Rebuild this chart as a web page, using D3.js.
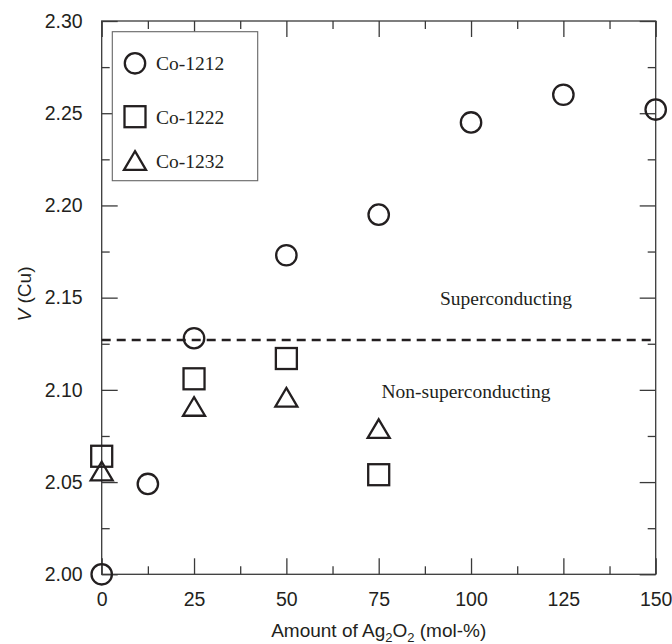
<!DOCTYPE html>
<html>
<head>
<meta charset="utf-8">
<script src="https://cdn.jsdelivr.net/npm/d3@7"></script>
<style>
  body { margin: 0; background: #fff; }
  text { fill: #231f20; }
</style>
</head>
<body>
<script>
// data
var co1212X = [0, 12.5, 25, 50, 75, 100, 125, 150];
var co1212Y = [2.000, 2.049, 2.128, 2.173, 2.195, 2.245, 2.260, 2.252];
var co1222X = [0, 25, 50, 75];
var co1222Y = [2.064, 2.106, 2.117, 2.054];
var co1232X = [0, 25, 50, 75];
var co1232Y = [2.056, 2.091, 2.096, 2.079];
var threshold = 2.127;

var xMajor = [0, 25, 50, 75, 100, 125, 150];
var xMinor = [12.5, 37.5, 62.5, 87.5, 112.5, 137.5];
var yMajor = [2.00, 2.05, 2.10, 2.15, 2.20, 2.25, 2.30];
var yMinor = [2.025, 2.075, 2.125, 2.175, 2.225, 2.275];
var legendNames = ["Co-1212", "Co-1222", "Co-1232"];

var W = 672, H = 644;
var L = 101.7, R = 655.7, T = 21, B = 574.3;
var ink = "#231f20";
var axisCol = "#3a3a3a";

var x = d3.scaleLinear().domain([0, 150]).range([L, R]);
var y = d3.scaleLinear().domain([2.00, 2.30]).range([B, T]);

var svg = d3.select("body").append("svg")
  .attr("width", W)
  .attr("height", H);

// frame
svg.append("rect")
  .attr("x", L).attr("y", T)
  .attr("width", R - L).attr("height", B - T)
  .attr("fill", "none")
  .attr("stroke", axisCol)
  .attr("stroke-width", 1.3);

function styleAxis(g) {
  g.select(".domain").remove();
  g.selectAll(".tick line").attr("stroke", axisCol).attr("stroke-width", 1.3);
  g.selectAll(".tick text")
    .attr("font-family", "'Liberation Sans', Arial, sans-serif")
    .attr("font-size", "19.5px")
    .attr("fill", ink);
}

// bottom
svg.append("g").attr("transform", "translate(0," + B + ")")
  .call(d3.axisBottom(x).tickValues(xMajor).tickSize(-16).tickPadding(0)
    .tickFormat(d3.format("d")))
  .call(styleAxis)
  .call(function(g) { g.selectAll(".tick text").attr("y", 32).attr("dy", 0); });
svg.append("g").attr("transform", "translate(0," + B + ")")
  .call(d3.axisBottom(x).tickValues(xMinor).tickSize(-8).tickFormat(""))
  .call(styleAxis);

// top
svg.append("g").attr("transform", "translate(0," + T + ")")
  .call(d3.axisTop(x).tickValues(xMajor).tickSize(-16).tickFormat(""))
  .call(styleAxis);
svg.append("g").attr("transform", "translate(0," + T + ")")
  .call(d3.axisTop(x).tickValues(xMinor).tickSize(-8).tickFormat(""))
  .call(styleAxis);

// left
svg.append("g").attr("transform", "translate(" + L + ",0)")
  .call(d3.axisLeft(y).tickValues(yMajor).tickSize(-16).tickPadding(19)
    .tickFormat(d3.format(".2f")))
  .call(styleAxis);
svg.append("g").attr("transform", "translate(" + L + ",0)")
  .call(d3.axisLeft(y).tickValues(yMinor).tickSize(-8).tickFormat(""))
  .call(styleAxis);

// right
svg.append("g").attr("transform", "translate(" + R + ",0)")
  .call(d3.axisRight(y).tickValues(yMajor).tickSize(-16).tickFormat(""))
  .call(styleAxis);
svg.append("g").attr("transform", "translate(" + R + ",0)")
  .call(d3.axisRight(y).tickValues(yMinor).tickSize(-8).tickFormat(""))
  .call(styleAxis);

// axis titles
var xt = svg.append("text")
  .attr("x", (L + R) / 2).attr("y", 637)
  .attr("text-anchor", "middle")
  .attr("font-family", "'Liberation Sans', Arial, sans-serif")
  .attr("font-size", "19px");
xt.append("tspan").text("Amount of Ag");
xt.append("tspan").attr("font-size", "13px").attr("dy", 5).text("2");
xt.append("tspan").attr("dy", -5).text("O");
xt.append("tspan").attr("font-size", "13px").attr("dy", 5).text("2");
xt.append("tspan").attr("dy", -5).text(" (mol-%)");

var yt = svg.append("text")
  .attr("transform", "translate(31,294) rotate(-90)")
  .attr("text-anchor", "middle")
  .attr("font-family", "'Liberation Sans', Arial, sans-serif")
  .attr("font-size", "19px");
yt.append("tspan").attr("font-style", "italic").text("V");
yt.append("tspan").text(" (Cu)");

// threshold line
svg.append("line")
  .attr("x1", x(0)).attr("x2", x(150))
  .attr("y1", y(threshold)).attr("y2", y(threshold))
  .attr("stroke", ink)
  .attr("stroke-width", 2.6)
  .attr("stroke-dasharray", "9,6");

// region labels
svg.append("text")
  .attr("x", 506).attr("y", 304.5)
  .attr("text-anchor", "middle")
  .attr("font-family", "'Liberation Serif', 'Times New Roman', serif")
  .attr("font-size", "19.5px")
  .text("Superconducting");
svg.append("text")
  .attr("x", 466).attr("y", 398)
  .attr("text-anchor", "middle")
  .attr("font-family", "'Liberation Serif', 'Times New Roman', serif")
  .attr("font-size", "19.5px")
  .text("Non-superconducting");

// marker shapes
function circleAt(g, cx, cy) {
  g.append("circle").attr("cx", cx).attr("cy", cy).attr("r", 10.2)
    .attr("fill", "none").attr("stroke", ink).attr("stroke-width", 2.3);
}
function squareAt(g, cx, cy) {
  g.append("rect").attr("x", cx - 10.5).attr("y", cy - 10.5)
    .attr("width", 21).attr("height", 21)
    .attr("fill", "none").attr("stroke", ink).attr("stroke-width", 2.3);
}
function triangleAt(g, cx, cy) {
  var w = 11, h = 9.3;
  g.append("path")
    .attr("d", "M" + cx + "," + (cy - h) + "L" + (cx + w) + "," + (cy + h) +
      "L" + (cx - w) + "," + (cy + h) + "Z")
    .attr("fill", "none").attr("stroke", ink).attr("stroke-width", 2.3)
    .attr("stroke-linejoin", "miter");
}

var pts = svg.append("g");
co1212X.forEach(function(d, i) { circleAt(pts, x(d), y(co1212Y[i])); });
co1222X.forEach(function(d, i) { squareAt(pts, x(d), y(co1222Y[i])); });
co1232X.forEach(function(d, i) { triangleAt(pts, x(d), y(co1232Y[i])); });

// legend
var lg = svg.append("g");
lg.append("rect")
  .attr("x", 112.3).attr("y", 31.7)
  .attr("width", 145.4).attr("height", 149)
  .attr("fill", "#fff")
  .attr("stroke", "#666")
  .attr("stroke-width", 1.1);
var legendY = [63.3, 116.7, 160.5];
var drawers = [circleAt, squareAt, triangleAt];
legendNames.forEach(function(name, i) {
  drawers[i](lg, 135, legendY[i]);
  lg.append("text")
    .attr("x", 156).attr("y", legendY[i] + 7)
    .attr("font-family", "'Liberation Serif', 'Times New Roman', serif")
    .attr("font-size", "19.5px")
    .text(name);
});
</script>
</body>
</html>
